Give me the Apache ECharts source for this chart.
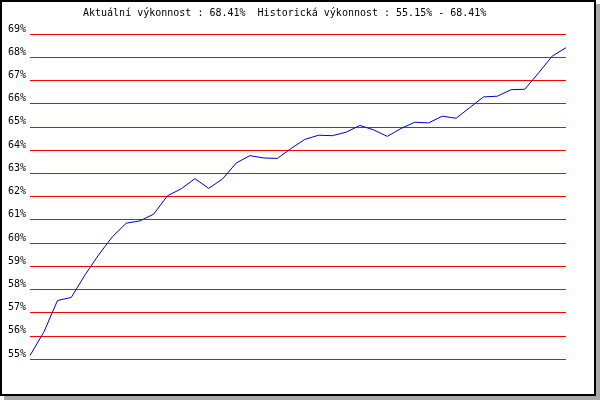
<!DOCTYPE html>
<html>
<head>
<meta charset="utf-8">
<script src="https://cdn.jsdelivr.net/npm/echarts@6/dist/echarts.min.js"></script>
<style>
html,body{margin:0;padding:0;background:#fff;}
#c{width:600px;height:400px;}
</style>
</head>
<body>
<div id="c"></div>
<script>
// Data
const categories = ['1','2','3','4','5','6','7','8','9','10','11','12','13','14','15','16','17','18','19','20',
  '21','22','23','24','25','26','27','28','29','30','31','32','33','34','35','36','37','38','39','40'];
const performance = [55.15, 56.15, 57.52, 57.65, 58.62, 59.49, 60.27, 60.85, 60.95, 61.24,
  62.03, 62.33, 62.77, 62.35, 62.75, 63.44, 63.76, 63.66, 63.64, 64.07,
  64.46, 64.64, 64.62, 64.77, 65.06, 64.87, 64.59, 64.93, 65.20, 65.17,
  65.46, 65.37, 65.83, 66.29, 66.32, 66.60, 66.62, 67.32, 68.05, 68.41];
const yTicks = [55, 56, 57, 58, 59, 60, 61, 62, 63, 64, 65, 66, 67, 68, 69];
const titleText = 'Aktuální výkonnost : 68.41%  Historická výkonnost : 55.15% - 68.41%';

const chart = echarts.init(document.getElementById('c'), null, {renderer: 'canvas'});
const font = 'DejaVu Sans Mono';
chart.setOption({
  animation: false,
  backgroundColor: 'transparent',
  graphic: [
    {type: 'rect', z: -20, silent: true, shape: {x: 4, y: 4, width: 596, height: 396},
      style: {fill: '#a9a9a9'}},
    {type: 'rect', z: -19, silent: true, shape: {x: 1, y: 1, width: 594, height: 394},
      style: {fill: '#ffffff', stroke: '#000000', lineWidth: 2}}
  ],
  title: {
    text: titleText,
    left: 83,
    top: 8,
    padding: 0,
    textStyle: {fontFamily: font, fontSize: 10, fontWeight: 'normal', color: '#000'}
  },
  grid: {left: 30, right: 34, top: 34, bottom: 41, containLabel: false},
  xAxis: {
    type: 'category',
    data: categories,
    boundaryGap: false,
    axisLine: {show: false},
    axisTick: {show: false},
    axisLabel: {show: false},
    splitLine: {show: false}
  },
  yAxis: {
    type: 'value',
    min: yTicks[0],
    max: yTicks[yTicks.length - 1],
    interval: 1,
    axisLine: {show: false},
    axisTick: {show: false},
    axisLabel: {
      formatter: '{value}%',
      fontFamily: font,
      fontSize: 10,
      color: '#000',
      margin: 4,
      verticalAlign: 'bottom'
    },
    splitLine: {show: true, lineStyle: {color: '#ff0000', width: 1}}
  },
  series: [{
    type: 'line',
    data: performance,
    symbol: 'none',
    lineStyle: {color: '#0000cc', width: 1},
    itemStyle: {color: '#0000cc'}
  }]
});
</script>
</body>
</html>
